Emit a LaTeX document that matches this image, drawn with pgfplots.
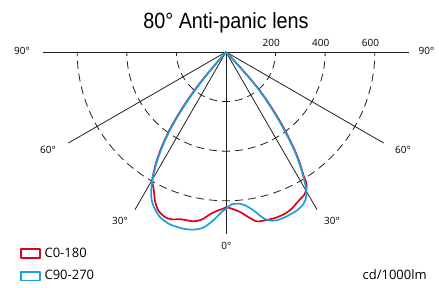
\documentclass[border=0pt]{standalone}
\usepackage{fontspec}
\setmainfont{Open Sans}
\newfontfamily\titlefont[FakeStretch=0.9]{Liberation Sans}
\usepackage{pgfplots}
\pgfplotsset{compat=1.18}
\definecolor{cred}{RGB}{226,0,26}
\definecolor{cblue}{RGB}{26,160,220}
\definecolor{cline}{RGB}{35,31,32}
\tikzset{ring/.style={cline, line width=0.8pt, dash pattern=on 8pt off 5pt, dash phase=4pt}}
\begin{document}
\begin{tikzpicture}
\begin{axis}[
  x=0.248pt, y=0.248pt,
  xmin=-911.3, xmax=858.9, ymin=-947.6, ymax=209.7,
  hide axis, clip=false,
  legend image code/.code={\draw[#1, line width=1.6pt, fill=none] (0pt,-4.3pt) rectangle (19pt,4.3pt);},
  legend style={at={(axis cs:-831.5,-786)}, anchor=north west, draw=none, fill=none,
    inner sep=0pt, row sep=9.5pt, font=\fontsize{13}{14}\selectfont,
    nodes={inner sep=1pt},
    /tikz/every odd column/.append style={column sep=3pt}},
  legend cell align=left,
]
% rings
\draw[ring] (axis cs:0,-200) arc[start angle=-90, end angle=-180, radius=49.6pt];
\draw[ring] (axis cs:0,-200) arc[start angle=-90, end angle=0, radius=49.6pt];
\draw[ring] (axis cs:0,-400) arc[start angle=-90, end angle=-180, radius=99.2pt];
\draw[ring] (axis cs:0,-400) arc[start angle=-90, end angle=0, radius=99.2pt];
\draw[ring] (axis cs:0,-600) arc[start angle=-90, end angle=-180, radius=148.8pt];
\draw[ring] (axis cs:0,-600) arc[start angle=-90, end angle=0, radius=148.8pt];
% radial lines
\draw[cline, line width=0.8pt] (axis cs:-738,0) -- (axis cs:738,0);
\draw[cline, line width=0.8pt] (axis cs:0,0) -- (axis cs:-635.7,-367);
\draw[cline, line width=0.8pt] (axis cs:0,0) -- (axis cs:635.7,-367);
\draw[cline, line width=0.8pt] (axis cs:0,0) -- (axis cs:-367,-635.7);
\draw[cline, line width=0.8pt] (axis cs:0,0) -- (axis cs:367,-635.7);
\draw[cline, line width=0.8pt] (axis cs:0,0) -- (axis cs:0,-734);

\addplot[cred, line width=1.7pt, smooth, tension=0.45, line join=round] coordinates {
(0,0) (-43,-50) (-85,-100) (-124,-150) (-159,-200) (-191,-250) (-220,-300) (-245,-350)
(-266,-400) (-283,-450) (-295,-500) (-297.5,-520) (-294,-540) (-290,-565) (-286.8,-597.9)
(-273.5,-638.3) (-246.4,-665.4) (-219.4,-674.7) (-179.0,-674.7) (-132.1,-682.8) (-98.2,-675.9)
(-64.6,-654.5) (-37.6,-641.1) (-10.9,-631.5) (0,-626.0) (23.0,-631.5) (56.6,-645.2)
(90.1,-665.4) (124.0,-682.8) (157.6,-678.7) (198.0,-669.4) (238.4,-651.7) (265.4,-631.5)
(292.1,-601) (316,-575) (325,-550) (323,-525) (313.5,-500) (298,-450) (279,-400) (255,-350)
(229.5,-300) (200,-250) (168,-200) (132,-150) (91,-100) (46.5,-50) (0,0)};
\addlegendentry{C0-180}
\addplot[cblue, line width=1.7pt, smooth, tension=0.45, line join=round] coordinates {
(0,0) (-43,-50) (-84,-100) (-122,-150) (-157,-200) (-189,-250) (-218,-300) (-243,-350)
(-264,-400) (-281,-450) (-294,-500) (-301,-550) (-302,-575) (-299,-600) (-290.9,-625.0)
(-266.6,-665.4) (-226.2,-694.9) (-172.5,-712.3) (-132.1,-716.3) (-91.7,-708.2) (-51.3,-678.7)
(-17.4,-645.2) (5.3,-627.4) (23.0,-614.1) (49.7,-611.3) (76.8,-618.1) (110.3,-638.3)
(144.2,-665.4) (170.9,-678.7) (204.8,-678.7) (245.2,-662.6) (286.8,-638.3) (311.1,-614.1)
(322,-590) (324,-565) (321,-540) (311,-500) (296,-450) (277,-400) (253,-350) (227,-300)
(198,-250) (166,-200) (131,-150) (90,-100) (46,-50) (0,0)};
\addlegendentry{C90-270}

% labels
\node[anchor=base, font=\titlefont\fontsize{22}{24}\selectfont] at (axis cs:0,93) {80° Anti-panic lens};
\node[anchor=base, font=\fontsize{10}{12}\selectfont, inner sep=0pt] at (axis cs:182.7,21.4) {200};
\node[anchor=base, font=\fontsize{10}{12}\selectfont, inner sep=0pt] at (axis cs:382,21.4) {400};
\node[anchor=base, font=\fontsize{10}{12}\selectfont, inner sep=0pt] at (axis cs:582.7,21.4) {600};
\node[anchor=base, font=\fontsize{10}{12}\selectfont, inner sep=0pt] at (axis cs:-822.6,-12) {90°};
\node[anchor=base, font=\fontsize{10}{12}\selectfont, inner sep=0pt] at (axis cs:808.5,-12) {90°};
\node[font=\fontsize{10}{12}\selectfont, inner sep=0pt] at (axis cs:-717.7,-395.2) {60°};
\node[font=\fontsize{10}{12}\selectfont, inner sep=0pt] at (axis cs:713.7,-395.2) {60°};
\node[font=\fontsize{10}{12}\selectfont, inner sep=0pt] at (axis cs:-427.4,-680.2) {30°};
\node[font=\fontsize{10}{12}\selectfont, inner sep=0pt] at (axis cs:427.4,-680.2) {30°};
\node[font=\fontsize{10}{12}\selectfont, inner sep=0pt] at (axis cs:2,-781) {0°};
\node[anchor=base east, font=\fontsize{13}{14}\selectfont, inner sep=0pt] at (axis cs:810,-918) {cd/1000lm};
\path (axis cs:-911.3,209.7) rectangle (axis cs:858.9,-947.6);
\end{axis}
\end{tikzpicture}
\end{document}
